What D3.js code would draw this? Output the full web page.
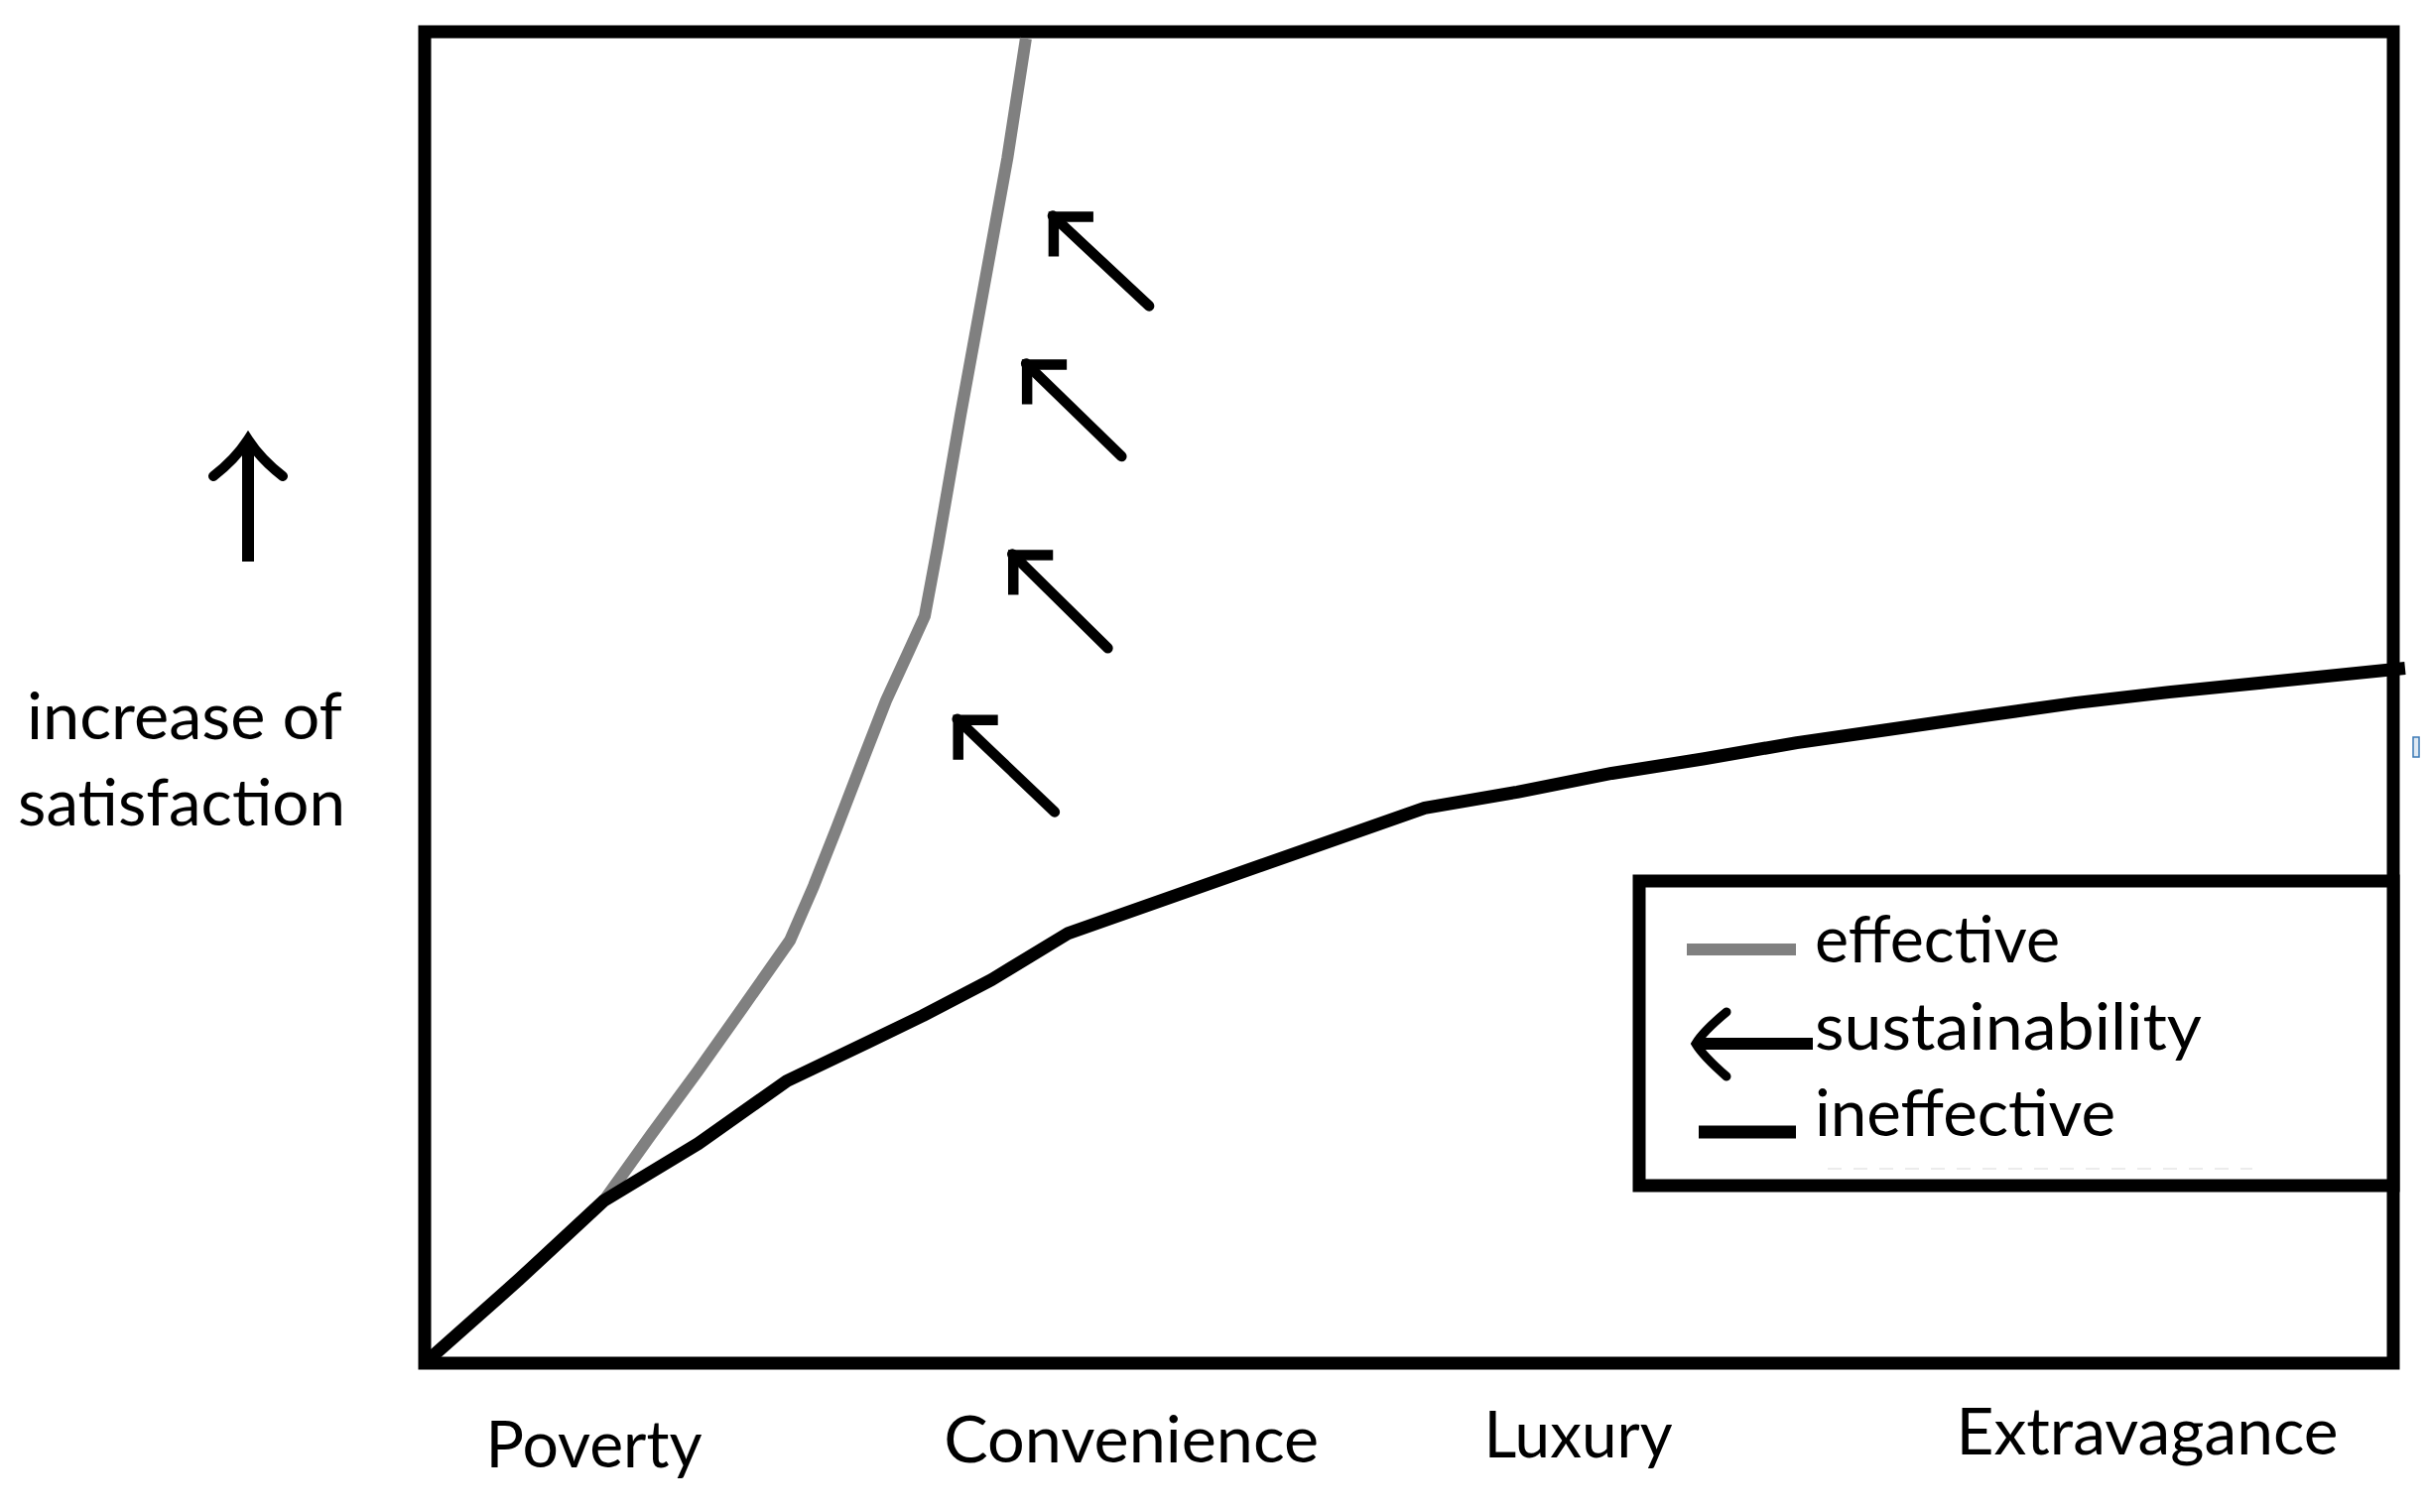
<!DOCTYPE html>
<html>
<head>
<meta charset="utf-8">
<script src="https://cdn.jsdelivr.net/npm/d3@7"></script>
<style>
  html, body { margin: 0; padding: 0; background: #ffffff; }
  svg { display: block; }
  text { font-family: Lato, "Open Sans", sans-serif; fill: #000; }
</style>
</head>
<body>
<div id="chart"></div>
<script>
// ---------------- data ----------------
const xCategories = ["Poverty", "Convenience", "Luxury", "Extravagance"];
const xCategoryPositions = [8.6, 35.9, 58.6, 87.5];

const yAxisLabelLines = ["increase of", "satisfaction"];

// "ineffective" path (black)
const ineffectiveX = [0, 4.8, 9.1, 13.9, 18.4, 22.5, 25.3, 28.8, 32.7, 50.8, 55.5, 60.3, 65.0, 69.7, 74.4, 79.1, 83.9, 88.6, 93.3, 100.6];
const ineffectiveY = [0, 6.3, 12.2, 16.5, 21.2, 24.1, 26.1, 28.8, 32.3, 41.7, 42.9, 44.3, 45.4, 46.6, 47.6, 48.6, 49.6, 50.4, 51.1, 52.2];

// "effective" path (gray)
const effectiveX = [9.1, 11.49, 13.86, 16.18, 18.55, 19.76, 20.92, 22.28, 23.44, 24.6, 25.4, 26.07, 27.22, 28.38, 29.6, 30.54];
const effectiveY = [12.2, 17.14, 21.91, 26.75, 31.74, 35.84, 40.16, 45.38, 49.78, 53.5, 56.1, 61.4, 71.2, 80.6, 90.5, 99.5];

// sustainability arrows (tail -> head), data units
const arrowTailX = [36.8, 35.4, 34.7, 32.0];
const arrowTailY = [79.4, 68.1, 53.7, 41.4];
const arrowHeadX = [31.75, 30.4, 29.7, 26.9];
const arrowHeadY = [86.4, 75.3, 61.0, 48.6];

const legendLabels = ["effective", "sustainability", "ineffective"];

// ---------------- layout ----------------
const W = 2448, H = 1524;
const frame = { left: 428, right: 2412, top: 32, bottom: 1374 };
const legendBox = { left: 1652, top: 888, right: 2412, bottom: 1195 };
const FONT = 65;
const colors = { effective: "#808080", ineffective: "#000000" };

const svg = d3.select("#chart").append("svg")
  .attr("width", W).attr("height", H)
  .attr("viewBox", `0 0 ${W} ${H}`);

svg.append("rect").attr("width", W).attr("height", H).attr("fill", "#fff");

const x = d3.scaleLinear().domain([0, 100]).range([frame.left, frame.right]);
const y = d3.scaleLinear().domain([0, 100]).range([frame.bottom, frame.top]);

// frame
svg.append("rect")
  .attr("x", x(0)).attr("y", y(100))
  .attr("width", x(100) - x(0)).attr("height", y(0) - y(100))
  .attr("fill", "none").attr("stroke", "#000").attr("stroke-width", 13);

const line = d3.line().x(d => x(d[0])).y(d => y(d[1])).curve(d3.curveLinear);

const ineffective = ineffectiveX.map((v, i) => [v, ineffectiveY[i]]);
const effective = effectiveX.map((v, i) => [v, effectiveY[i]]);

svg.append("path").datum(effective)
  .attr("d", line).attr("fill", "none")
  .attr("stroke", colors.effective).attr("stroke-width", 12)
  .attr("stroke-linejoin", "round");

svg.append("path").datum(ineffective)
  .attr("d", line).attr("fill", "none")
  .attr("stroke", colors.ineffective).attr("stroke-width", 13)
  .attr("stroke-linejoin", "round");

// sustainability arrows
const arrows = arrowTailX.map((v, i) => ({ x1: v, y1: arrowTailY[i], x2: arrowHeadX[i], y2: arrowHeadY[i] }));
const ag = svg.append("g").attr("stroke", "#000").attr("fill", "none").attr("stroke-width", 10.5);
ag.selectAll("line.shaft").data(arrows).join("line")
  .attr("class", "shaft")
  .attr("x1", d => x(d.x1)).attr("y1", d => y(d.y1))
  .attr("x2", d => x(d.x2) + 3).attr("y2", d => y(d.y2) + 3)
  .attr("stroke-linecap", "round");
ag.selectAll("path.head").data(arrows).join("path")
  .attr("class", "head")
  .attr("stroke-linejoin", "miter")
  .attr("d", d => {
    const hx = x(d.x2) + 4, hy = y(d.y2) + 4;
    return `M${hx + 40},${hy} L${hx},${hy} L${hx},${hy + 40}`;
  });

// y-axis label with up arrow
const yl = svg.append("g");
yl.append("line").attr("x1", 250).attr("y1", 566).attr("x2", 250).attr("y2", 450)
  .attr("stroke", "#000").attr("stroke-width", 12);
yl.append("path").attr("d", "M215,480 Q237,463 250,443 Q263,463 285,480")
  .attr("fill", "none").attr("stroke", "#000").attr("stroke-width", 10).attr("stroke-linecap", "round");
const yLabelPos = [{ x: 27, y: 745, w: 318 }, { x: 18, y: 832, w: 330 }];
yl.selectAll("text").data(yAxisLabelLines).join("text")
  .attr("x", (d, i) => yLabelPos[i].x).attr("y", (d, i) => yLabelPos[i].y)
  .attr("font-size", FONT)
  .attr("textLength", (d, i) => yLabelPos[i].w).attr("lengthAdjust", "spacingAndGlyphs")
  .text(d => d);

// x category labels
const xLabelWidths = [218, 378, 190, 385];
const xLabelBaselines = [1479, 1474, 1469, 1466];
svg.append("g").selectAll("text").data(xCategories).join("text")
  .attr("x", (d, i) => x(xCategoryPositions[i]))
  .attr("y", (d, i) => xLabelBaselines[i])
  .attr("text-anchor", "middle")
  .attr("font-size", FONT)
  .attr("textLength", (d, i) => xLabelWidths[i]).attr("lengthAdjust", "spacingAndGlyphs")
  .text(d => d);

// legend
const lg = svg.append("g");
lg.append("rect")
  .attr("x", legendBox.left).attr("y", legendBox.top)
  .attr("width", legendBox.right - legendBox.left).attr("height", legendBox.bottom - legendBox.top)
  .attr("fill", "#fff").attr("stroke", "#000").attr("stroke-width", 13);
// faint artifact dashes
lg.append("line").attr("x1", 1842).attr("x2", 2270).attr("y1", 1178).attr("y2", 1178)
  .attr("stroke", "#ececec").attr("stroke-width", 2).attr("stroke-dasharray", "14 12");

const legendRows = [970, 1058, 1145];
const legendTextW = [247, 390, 303];
// swatches
lg.append("line").attr("x1", 1700).attr("x2", 1810).attr("y1", 957).attr("y2", 957)
  .attr("stroke", colors.effective).attr("stroke-width", 12);
lg.append("line").attr("x1", 1714).attr("x2", 1827).attr("y1", 1052).attr("y2", 1052)
  .attr("stroke", "#000").attr("stroke-width", 12);
lg.append("path").attr("d", "M1740,1020 Q1716,1040 1709,1052 Q1716,1064 1740,1085")
  .attr("fill", "none").attr("stroke", "#000").attr("stroke-width", 9).attr("stroke-linecap", "round");
lg.append("line").attr("x1", 1712).attr("x2", 1810).attr("y1", 1141).attr("y2", 1141)
  .attr("stroke", colors.ineffective).attr("stroke-width", 13);

lg.selectAll("text").data(legendLabels).join("text")
  .attr("x", 1829).attr("y", (d, i) => legendRows[i])
  .attr("font-size", FONT)
  .attr("textLength", (d, i) => legendTextW[i]).attr("lengthAdjust", "spacingAndGlyphs")
  .text(d => d);

// small blue artifact at the right edge
svg.append("rect").attr("x", 2432).attr("y", 743).attr("width", 6).attr("height", 20)
  .attr("fill", "#dfe9f3").attr("stroke", "#3b78b5").attr("stroke-width", 1.5);
</script>
</body>
</html>
